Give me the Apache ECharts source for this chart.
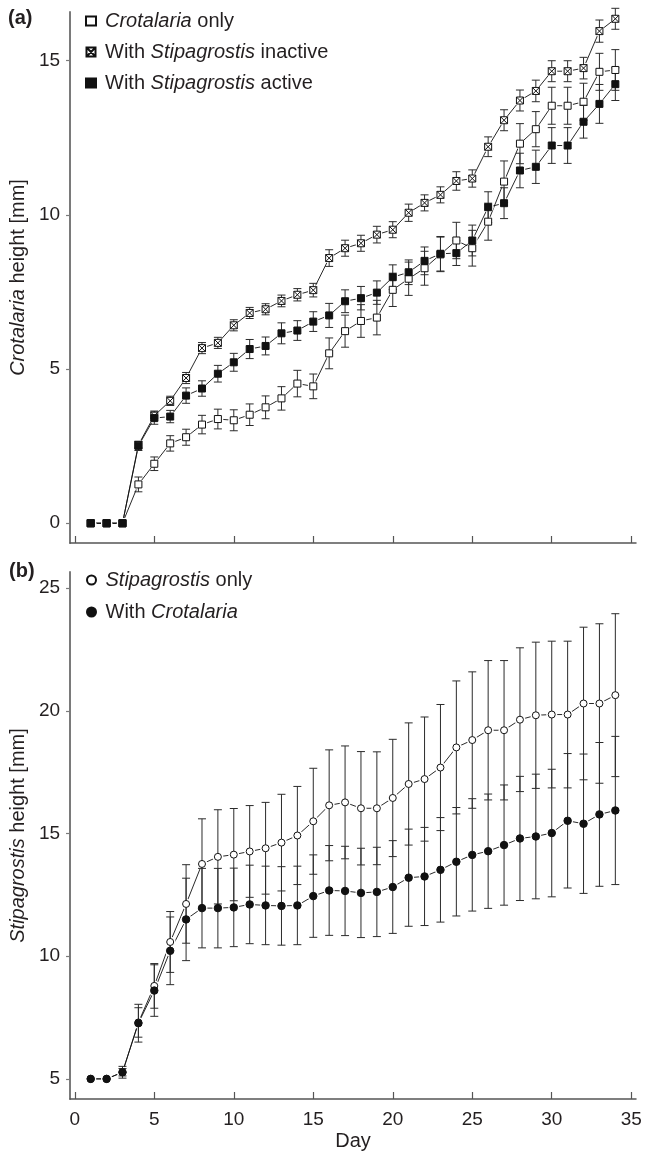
<!DOCTYPE html>
<html>
<head>
<meta charset="utf-8">
<script src="https://cdn.jsdelivr.net/npm/echarts@6/dist/echarts.min.js"></script>
<style>
  html, body { margin: 0; padding: 0; background: #fff; }
  #chart { width: 645px; height: 1152px; }
</style>
</head>
<body>
<div id="chart"></div>
<script>
// ---------- DATA ----------
const days = [1,2,3,4,5,6,7,8,9,10,11,12,13,14,15,16,17,18,19,20,21,22,23,24,25,26,27,28,29,30,31,32,33,34];
const xTicks = [0,5,10,15,20,25,30,35];
const yTicksA = [0,5,10,15];
const yTicksB = [5,10,15,20,25];

// Panel (a): Crotalaria height [mm]
const crotOnly    = [0,0,0,1.26,1.93,2.59,2.79,3.20,3.38,3.34,3.52,3.76,4.05,4.53,4.44,5.51,6.23,6.56,6.67,7.57,7.93,8.27,8.72,9.17,8.92,9.78,11.08,12.31,12.78,13.54,13.54,13.67,14.64,14.70];
const crotOnlyErr = [0,0,0,0.24,0.22,0.25,0.26,0.30,0.32,0.34,0.35,0.37,0.38,0.43,0.40,0.50,0.52,0.53,0.56,0.54,0.54,0.55,0.56,0.59,0.58,0.60,0.67,0.65,0.57,0.60,0.60,0.60,0.60,0.66];
const inactive    = [0,0,0,2.54,3.49,3.97,4.71,5.68,5.85,6.42,6.82,6.94,7.21,7.41,7.56,8.60,8.92,9.08,9.36,9.52,10.07,10.39,10.65,11.10,11.18,12.21,13.07,13.71,14.02,14.66,14.66,14.76,15.96,16.36];
const inactiveErr = [0,0,0,0.10,0.15,0.15,0.18,0.18,0.18,0.18,0.18,0.18,0.19,0.20,0.22,0.27,0.26,0.26,0.27,0.26,0.28,0.26,0.26,0.30,0.28,0.32,0.34,0.34,0.35,0.34,0.34,0.35,0.36,0.34];
const active      = [0,0,0,2.51,3.41,3.46,4.14,4.37,4.85,5.22,5.65,5.75,6.16,6.25,6.54,6.74,7.20,7.30,7.48,7.98,8.14,8.51,8.74,8.76,9.17,10.25,10.38,11.44,11.56,12.25,12.25,13.02,13.60,14.24];
const activeErr   = [0,0,0,0.15,0.20,0.20,0.25,0.25,0.27,0.29,0.31,0.29,0.34,0.32,0.32,0.39,0.37,0.38,0.38,0.40,0.40,0.45,0.56,0.40,0.50,0.50,0.50,0.56,0.54,0.58,0.58,0.53,0.63,0.53];

// Panel (b): Stipagrostis height [mm]
const stipOnly    = [5.0,5.0,5.27,7.30,8.79,10.58,12.13,13.76,14.05,14.14,14.27,14.40,14.63,14.92,15.50,16.15,16.27,16.03,16.03,16.45,17.02,17.22,17.69,18.51,18.81,19.21,19.21,19.64,19.82,19.85,19.85,20.30,20.30,20.64];
const stipOnlyErr = [0,0,0.15,0.60,0.91,1.24,1.60,1.84,1.92,1.88,1.87,1.87,1.97,2.00,2.16,2.26,2.30,2.31,2.30,2.39,2.49,2.53,2.57,2.71,2.78,2.84,2.84,2.93,2.98,2.99,2.99,3.11,3.25,3.32];
const withCrot    = [5.0,5.0,5.27,7.27,8.60,10.22,11.50,11.96,11.96,11.99,12.11,12.07,12.05,12.07,12.45,12.68,12.66,12.58,12.62,12.82,13.20,13.25,13.52,13.85,14.13,14.28,14.53,14.80,14.88,15.02,15.52,15.40,15.78,15.94];
const withCrotErr = [0,0,0.24,0.77,1.05,1.38,1.68,1.62,1.62,1.60,1.60,1.60,1.60,1.60,1.68,1.83,1.82,1.82,1.82,1.89,1.98,2.00,2.13,2.21,2.29,2.33,2.45,2.53,2.54,2.60,2.74,2.84,2.93,3.02];

// ---------- STYLE ----------
const FONT = '"Liberation Sans", Arial, Helvetica, sans-serif';
const INK = '#231f20';
const AXIS_Y = '#7a7a7a';
const AXIS_X = '#555555';

const names = {
  a1: 'Crotalaria only', a2: 'With Stipagrostis inactive', a3: 'With Stipagrostis active',
  b1: 'Stipagrostis only', b2: 'With Crotalaria'
};
const richNames = {
  'Crotalaria only': '{i|Crotalaria} only',
  'With Stipagrostis inactive': 'With {i|Stipagrostis} inactive',
  'With Stipagrostis active': 'With {i|Stipagrostis} active',
  'Stipagrostis only': '{i|Stipagrostis} only',
  'With Crotalaria': 'With {i|Crotalaria}'
};

function pts(vals) { return days.map((d, i) => [d, vals[i]]); }
function errPts(vals, errs) { return days.map((d, i) => [d, vals[i], errs[i]]); }

function errRender(params, api) {
  const x = api.value(0), y = api.value(1), e = api.value(2);
  if (!e) return null;
  const top = api.coord([x, y + e]);
  const bot = api.coord([x, y - e]);
  const hw = 4;
  const style = { stroke: '#2b2b2b', lineWidth: 1, fill: null };
  return {
    type: 'group',
    children: [
      { type: 'line', shape: { x1: top[0], y1: top[1], x2: bot[0], y2: bot[1] }, style },
      { type: 'line', shape: { x1: top[0] - hw, y1: top[1], x2: top[0] + hw, y2: top[1] }, style },
      { type: 'line', shape: { x1: bot[0] - hw, y1: bot[1], x2: bot[0] + hw, y2: bot[1] }, style }
    ]
  };
}

function layered(name, vals, errs, gi, symbol, fill, size) {
  return [
    { type: 'line', name: name + '_line', xAxisIndex: gi, yAxisIndex: gi, data: pts(vals),
      showSymbol: false, symbol: 'none', silent: true, z: 1,
      lineStyle: { color: '#111', width: 0.9 } },
    { type: 'scatter', name: name + '_halo', xAxisIndex: gi, yAxisIndex: gi, data: pts(vals),
      symbol: 'circle', symbolSize: 11, silent: true, z: 2,
      itemStyle: { color: '#ffffff', borderWidth: 0, opacity: 1 } },
    { type: 'custom', name: name + '_err', xAxisIndex: gi, yAxisIndex: gi, data: errPts(vals, errs),
      renderItem: errRender, silent: true, z: 3, encode: { x: 0, y: 1 } },
    { type: 'scatter', name: name, xAxisIndex: gi, yAxisIndex: gi, data: pts(vals),
      symbol: symbol, symbolSize: size, z: 4,
      itemStyle: { color: fill, borderColor: '#111', borderWidth: 1, opacity: 1 } }
  ];
}

const crossedSquare = 'path://M0,0H10V10H0Z M0,0L10,10 M10,0L0,10';

const series = [].concat(
  layered(names.a1, crotOnly, crotOnlyErr, 0, 'rect', '#ffffff', 7),
  layered(names.a2, inactive, inactiveErr, 0, crossedSquare, '#ffffff', 7),
  layered(names.a3, active, activeErr, 0, 'rect', '#111111', 7),
  layered(names.b1, stipOnly, stipOnlyErr, 1, 'circle', '#ffffff', 7),
  layered(names.b2, withCrot, withCrotErr, 1, 'circle', '#111111', 7.5)
);

function xAxisCfg(gi, showLabels) {
  return {
    type: 'value', gridIndex: gi, min: -0.3, max: 35.3,
    splitLine: { show: false },
    axisLine: { show: true, onZero: false, lineStyle: { color: AXIS_X, width: 1.5 } },
    axisTick: { show: true, inside: true, length: 7, customValues: xTicks, lineStyle: { color: AXIS_X, width: 1.2 } },
    axisLabel: { show: showLabels, customValues: xTicks, fontSize: 19, color: INK, fontFamily: FONT, margin: 11 },
    name: showLabels ? 'Day' : '',
    nameLocation: 'middle', nameGap: 32,
    nameTextStyle: { fontSize: 20, color: INK, fontFamily: FONT }
  };
}
function yAxisCfg(gi, min, max, ticks, nameRich) {
  return {
    type: 'value', gridIndex: gi, min: min, max: max,
    splitLine: { show: false },
    axisLine: { show: true, onZero: false, lineStyle: { color: AXIS_Y, width: 2 } },
    axisTick: { show: true, inside: false, length: 4, customValues: ticks, lineStyle: { color: AXIS_Y, width: 1.2 } },
    axisLabel: { customValues: ticks, fontSize: 19, color: INK, fontFamily: FONT, margin: 10 },
    name: nameRich, nameLocation: 'middle', nameRotate: 90, nameGap: 41,
    nameTextStyle: { fontSize: 20, color: INK, fontFamily: FONT,
      rich: { i: { fontStyle: 'italic', fontSize: 20, color: INK, fontFamily: FONT } } }
  };
}

const legendCommon = {
  orient: 'vertical', itemWidth: 10, itemHeight: 9,
  selectedMode: false,
  formatter: n => richNames[n] || n,
  textStyle: { fontSize: 20, color: INK, fontFamily: FONT, padding: [0, 0, 0, 4],
    rich: { i: { fontStyle: 'italic', fontSize: 20, color: INK, fontFamily: FONT } } }
};

const option = {
  animation: false,
  backgroundColor: '#ffffff',
  grid: [
    { left: 68, top: 12, width: 568, height: 531 },
    { left: 68, top: 572, width: 568, height: 531 }
  ],
  xAxis: [xAxisCfg(0, false), xAxisCfg(1, true)],
  yAxis: [
    yAxisCfg(0, -0.64, 16.58, yTicksA, '{i|Crotalaria} height [mm]'),
    yAxisCfg(1, 4.18, 25.66, yTicksB, '{i|Stipagrostis} height [mm]')
  ],
  legend: [
    Object.assign({}, legendCommon, { left: 80, top: 6, itemGap: 11, data: [names.a1, names.a2, names.a3] }),
    Object.assign({}, legendCommon, { left: 81, top: 565, itemGap: 12, data: [names.b1, names.b2] })
  ],
  graphic: [
    { type: 'text', left: 8, top: 8, style: { text: '(a)', fontSize: 20, fontWeight: 'bold', fill: INK, fontFamily: FONT } },
    { type: 'text', left: 9, top: 561, style: { text: '(b)', fontSize: 20, fontWeight: 'bold', fill: INK, fontFamily: FONT } }
  ],
  series: series
};

const chart = echarts.init(document.getElementById('chart'), null, { renderer: 'canvas' });
chart.setOption(option);
</script>
</body>
</html>
